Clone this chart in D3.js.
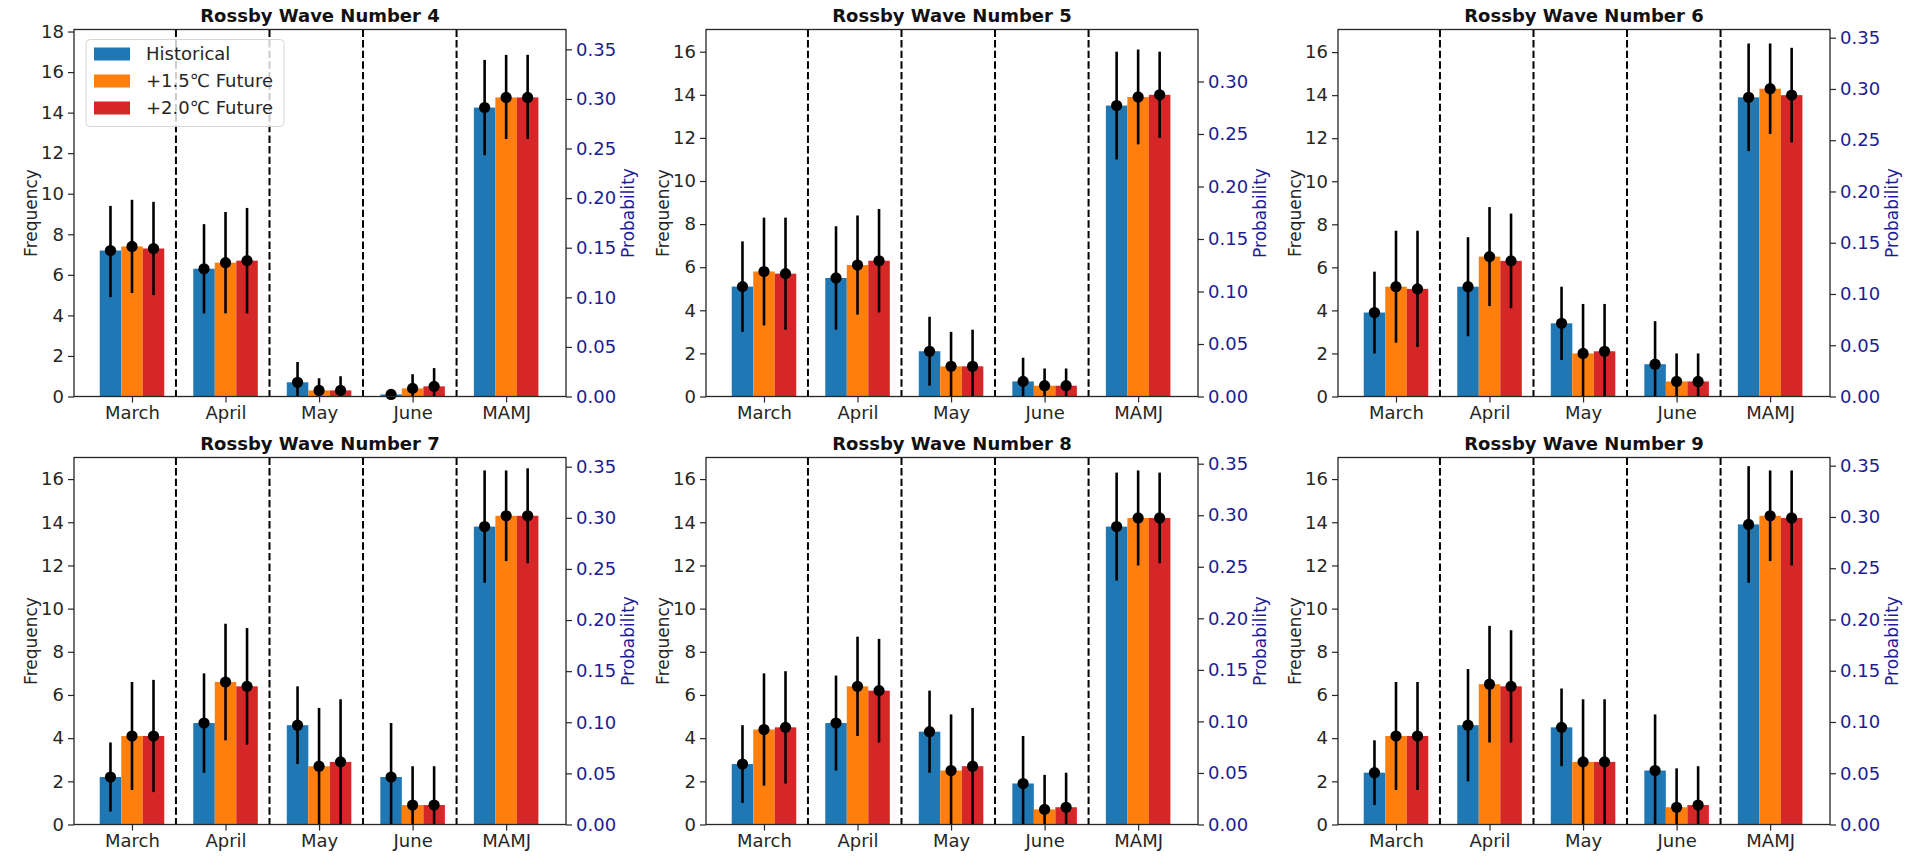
<!DOCTYPE html>
<html>
<head>
<meta charset="utf-8">
<script src="https://cdn.jsdelivr.net/npm/d3@7"></script>
<style>
  body { margin: 0; background: #fff; }
  text { font-family: "DejaVu Sans", sans-serif; }
</style>
</head>
<body>
<svg id="chart" width="1907" height="856"></svg>
<script>
// ---- data (frequency units) ----
const waveNumbers = [4, 5, 6, 7, 8, 9];
const periods = ["March", "April", "May", "June", "MAMJ"];
const scenarios = ["Historical", "+1.5\u2103 Future", "+2.0\u2103 Future"];
const scenarioColors = ["#1f77b4", "#ff7f0e", "#d62728"];

// one row per wave number, one column per period
const histMean = [
  [7.2, 6.3, 0.7, 0.1, 14.25],
  [5.1, 5.5, 2.1, 0.7, 13.5],
  [3.9, 5.1, 3.4, 1.5, 13.9],
  [2.2, 4.7, 4.6, 2.2, 13.8],
  [2.8, 4.7, 4.3, 1.9, 13.8],
  [2.4, 4.6, 4.5, 2.5, 13.9]
];
const histLow = [
  [4.9, 4.1, 0, 0, 11.9],
  [3.0, 3.1, 0.5, 0, 11.0],
  [2.0, 2.8, 1.7, 0, 11.4],
  [0.6, 2.4, 2.8, 0, 11.2],
  [1.0, 2.5, 2.4, 0, 11.3],
  [0.9, 2.0, 2.7, 0, 11.2]
];
const histHigh = [
  [9.4, 8.5, 1.7, 0.25, 16.6],
  [7.2, 7.9, 3.7, 1.8, 16.0],
  [5.8, 7.4, 5.1, 3.5, 16.4],
  [3.8, 7.0, 6.4, 4.7, 16.4],
  [4.6, 6.9, 6.2, 4.1, 16.3],
  [3.9, 7.2, 6.3, 5.1, 16.6]
];
const p15Mean = [
  [7.4, 6.6, 0.3, 0.4, 14.75],
  [5.8, 6.1, 1.4, 0.5, 13.9],
  [5.1, 6.5, 2.0, 0.7, 14.3],
  [4.1, 6.6, 2.7, 0.9, 14.3],
  [4.4, 6.4, 2.5, 0.7, 14.2],
  [4.1, 6.5, 2.9, 0.8, 14.3]
];
const p15Low = [
  [5.1, 4.1, 0, 0, 12.7],
  [3.3, 3.8, 0, 0, 11.7],
  [2.5, 4.2, 0, 0, 12.2],
  [1.6, 3.9, 0, 0, 12.2],
  [1.8, 4.1, 0, 0, 12.0],
  [1.6, 3.8, 0, 0, 12.2]
];
const p15High = [
  [9.7, 9.1, 0.9, 1.1, 16.85],
  [8.3, 8.4, 3.0, 1.3, 16.1],
  [7.7, 8.8, 4.3, 2.0, 16.4],
  [6.6, 9.3, 5.4, 2.7, 16.4],
  [7.0, 8.7, 5.1, 2.3, 16.4],
  [6.6, 9.2, 5.8, 2.6, 16.4]
];
const p20Mean = [
  [7.3, 6.7, 0.3, 0.5, 14.75],
  [5.7, 6.3, 1.4, 0.5, 14.0],
  [5.0, 6.3, 2.1, 0.7, 14.0],
  [4.1, 6.4, 2.9, 0.9, 14.3],
  [4.5, 6.2, 2.7, 0.8, 14.2],
  [4.1, 6.4, 2.9, 0.9, 14.2]
];
const p20Low = [
  [5.0, 4.1, 0, 0, 12.7],
  [3.1, 3.9, 0, 0, 12.0],
  [2.3, 4.1, 0, 0, 11.8],
  [1.5, 3.7, 0, 0, 12.1],
  [1.9, 3.8, 0, 0, 12.1],
  [1.6, 3.8, 0, 0, 12.0]
];
const p20High = [
  [9.6, 9.3, 1.0, 1.4, 16.85],
  [8.3, 8.7, 3.1, 1.3, 16.0],
  [7.7, 8.5, 4.3, 2.0, 16.2],
  [6.7, 9.1, 5.8, 2.7, 16.5],
  [7.1, 8.6, 5.4, 2.4, 16.3],
  [6.6, 9.0, 5.8, 2.7, 16.4]
];

// axis limits per panel
const freqMax = [18.1, 17.03, 17.05, 17.0, 17.0, 17.0];
const probMax = [0.37, 0.3495, 0.358, 0.359, 0.356, 0.358];
const freqTicks = [0, 2, 4, 6, 8, 10, 12, 14, 16, 18];
const probTicks = [0, 0.05, 0.1, 0.15, 0.2, 0.25, 0.3, 0.35];

const means = [histMean, p15Mean, p20Mean];
const lows = [histLow, p15Low, p20Low];
const highs = [histHigh, p15High, p20High];

// ---- layout ----
const colLefts = [74, 706, 1338];
const rowTops = [29.5, 457.5];
const panelW = 492, panelH = 367;
const barW = 0.23;
const axisColor = "#262626";
const probColor = "#1c1c96";

const svg = d3.select("#chart");

waveNumbers.forEach((wave, w) => {
  const left = colLefts[w % 3];
  const top = rowTops[Math.floor(w / 3)];
  const g = svg.append("g").attr("transform", `translate(${left},${top})`);

  const x = d3.scaleLinear().domain([-0.62, 4.64]).range([0, panelW]);
  const y = d3.scaleLinear().domain([0, freqMax[w]]).range([panelH, 0]);
  const yp = d3.scaleLinear().domain([0, probMax[w]]).range([panelH, 0]);

  // bars
  const rows = [];
  periods.forEach((p, i) => {
    scenarios.forEach((s, k) => {
      rows.push({
        i, k,
        mean: means[k][w][i],
        low: lows[k][w][i],
        high: highs[k][w][i]
      });
    });
  });

  g.selectAll(".bar")
    .data(rows)
    .join("rect")
    .attr("class", "bar")
    .attr("x", d => x(d.i + (d.k - 1) * barW - barW / 2))
    .attr("width", x(barW) - x(0))
    .attr("y", d => y(d.mean))
    .attr("height", d => y(0) - y(d.mean))
    .attr("fill", d => scenarioColors[d.k]);

  // dashed separators between periods
  g.selectAll(".sep")
    .data([0.47, 1.47, 2.47, 3.47])
    .join("line")
    .attr("class", "sep")
    .attr("x1", d => x(d)).attr("x2", d => x(d))
    .attr("y1", 0).attr("y2", panelH)
    .attr("stroke", "#000")
    .attr("stroke-width", 2)
    .attr("stroke-dasharray", "7.4,3.2");

  // legend (first panel only)
  if (w === 0) {
    const lg = g.append("g").attr("transform", "translate(12,10)");
    lg.append("rect")
      .attr("width", 198).attr("height", 87)
      .attr("rx", 4)
      .attr("fill", "#fff").attr("fill-opacity", 0.8)
      .attr("stroke", "#d6d6d6");
    scenarios.forEach((s, k) => {
      const ly = 14.5 + k * 27;
      lg.append("rect")
        .attr("x", 8).attr("y", ly - 6.5)
        .attr("width", 36).attr("height", 13)
        .attr("fill", scenarioColors[k]);
      lg.append("text")
        .attr("x", 60).attr("y", ly)
        .attr("dy", "0.35em")
        .attr("font-size", 18)
        .attr("fill", "#262626")
        .text(s);
    });
  }

  // error bars and dots
  g.selectAll(".err")
    .data(rows)
    .join("line")
    .attr("class", "err")
    .attr("x1", d => x(d.i + (d.k - 1) * barW))
    .attr("x2", d => x(d.i + (d.k - 1) * barW))
    .attr("y1", d => y(d.low))
    .attr("y2", d => y(d.high))
    .attr("stroke", "#000")
    .attr("stroke-width", 2.6);

  g.selectAll(".dot")
    .data(rows)
    .join("circle")
    .attr("class", "dot")
    .attr("cx", d => x(d.i + (d.k - 1) * barW))
    .attr("cy", d => y(d.mean))
    .attr("r", 5.6)
    .attr("fill", "#000");

  // axes
  const leftAxis = d3.axisLeft(y)
    .tickValues(freqTicks.filter(t => t <= freqMax[w]))
    .tickFormat(d3.format("d"))
    .tickSize(6).tickPadding(4).tickSizeOuter(0);
  const rightAxis = d3.axisRight(yp)
    .tickValues(probTicks.filter(t => t <= probMax[w]))
    .tickFormat(d3.format(".2f"))
    .tickSize(6).tickPadding(4).tickSizeOuter(0);
  const bottomAxis = d3.axisBottom(x)
    .tickValues(d3.range(periods.length))
    .tickFormat(i => periods[i])
    .tickSize(6).tickPadding(4).tickSizeOuter(0);

  const ax = [
    g.append("g").call(leftAxis),
    g.append("g").attr("transform", `translate(${panelW},0)`).call(rightAxis),
    g.append("g").attr("transform", `translate(0,${panelH})`).call(bottomAxis)
  ];
  ax.forEach(a => {
    a.select(".domain").remove();
    a.selectAll("text").attr("font-size", 18).attr("font-family", "DejaVu Sans");
    a.selectAll("line").attr("stroke", axisColor).attr("stroke-width", 1.2);
  });
  ax[0].selectAll("text").attr("fill", axisColor);
  ax[2].selectAll("text").attr("fill", axisColor);
  ax[1].selectAll("text").attr("fill", probColor);

  // frame
  g.append("rect")
    .attr("width", panelW).attr("height", panelH)
    .attr("fill", "none")
    .attr("stroke", axisColor)
    .attr("stroke-width", 1.3);

  // labels
  g.append("text")
    .attr("transform", `translate(-43,${panelH / 2}) rotate(-90)`)
    .attr("text-anchor", "middle")
    .attr("dy", "0.35em")
    .attr("font-size", 17)
    .attr("fill", axisColor)
    .text("Frequency");
  g.append("text")
    .attr("transform", `translate(${panelW + 62},${panelH / 2}) rotate(-90)`)
    .attr("text-anchor", "middle")
    .attr("dy", "0.35em")
    .attr("font-size", 17)
    .attr("fill", probColor)
    .text("Probability");
  g.append("text")
    .attr("x", panelW / 2).attr("y", -8)
    .attr("text-anchor", "middle")
    .attr("font-size", 18)
    .attr("font-weight", "bold")
    .attr("fill", "#111")
    .text(`Rossby Wave Number ${wave}`);
});
</script>
</body>
</html>
